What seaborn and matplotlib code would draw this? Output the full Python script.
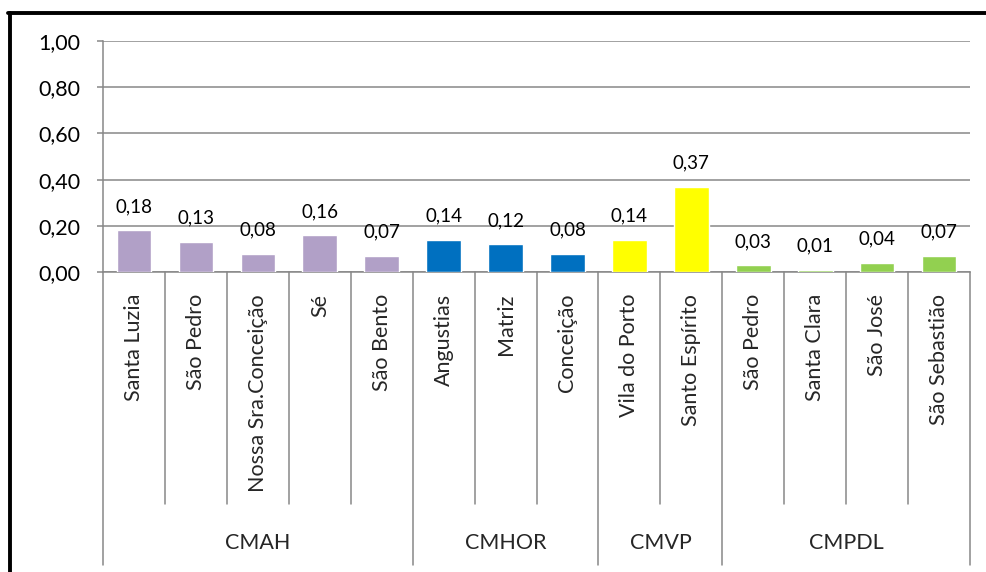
import matplotlib
matplotlib.use("Agg")
import matplotlib.pyplot as plt
import matplotlib.transforms as mtransforms
from matplotlib.lines import Line2D
import seaborn as sns
import pandas as pd

parishes = ["Santa Luzia", "São Pedro", "Nossa Sra.Conceição", "Sé", "São Bento",
            "Angustias", "Matriz", "Conceição",
            "Vila do Porto", "Santo Espírito",
            "São Pedro", "Santa Clara", "São José", "São Sebastião"]
groups = ["CMAH"] * 5 + ["CMHOR"] * 3 + ["CMVP"] * 2 + ["CMPDL"] * 4
values = [0.18, 0.13, 0.08, 0.16, 0.07, 0.14, 0.12, 0.08, 0.14, 0.37, 0.03, 0.01, 0.04, 0.07]
group_names = ["CMAH", "CMHOR", "CMVP", "CMPDL"]
group_colors = ["#B1A0C7", "#0070C0", "#FFFF00", "#92D050"]
yticks = [0.0, 0.2, 0.4, 0.6, 0.8, 1.0]

df = pd.DataFrame({"key": [f"{i}_{p}" for i, p in enumerate(parishes)],
                   "parish": parishes, "group": groups, "value": values})

sns.set_theme(style="white")
plt.rcParams["font.family"] = ["Lato", "DejaVu Sans"]

fig = plt.figure(figsize=(9.86, 5.72), dpi=100)
ax = fig.add_axes([0.1045, 0.5245, 0.8793, 0.4038])

sns.barplot(data=df, x="key", y="value", hue="group", hue_order=group_names,
            palette=dict(zip(group_names, group_colors)), dodge=False,
            width=0.56, legend=False, ax=ax, saturation=1, zorder=3)

grid_c = "#878787"
ax.set_ylim(0, 1.0)
ax.set_xlim(-0.5, len(parishes) - 0.5)
ax.set_yticks(yticks)
ax.set_yticklabels([f"{t:.2f}".replace(".", ",") for t in yticks], fontsize=15.5, color="black")
ax.yaxis.grid(True, color=grid_c, linewidth=1.1, zorder=1)
ax.set_axisbelow(True)
ax.tick_params(axis="y", length=4.5, width=1.1, color=grid_c, pad=12, left=True)
ax.set_xticks([])
ax.set_xlabel("")
ax.set_ylabel("")
for s in ["top", "right"]:
    ax.spines[s].set_visible(False)
ax.spines["left"].set_color(grid_c)
ax.spines["left"].set_linewidth(1.1)
ax.spines["bottom"].set_color(grid_c)
ax.spines["bottom"].set_linewidth(1.1)
ax.spines["bottom"].set_zorder(2)

# value labels
for i, v in enumerate(values):
    ax.annotate(f"{v:.2f}".replace(".", ","), (i, v), xytext=(0, 17), textcoords="offset points",
                ha="center", va="center", fontsize=13.5, color="black")

# multi-level category axis
trans = mtransforms.blended_transform_factory(ax.transData, ax.transAxes)
n = len(parishes)
boundaries = [0]
for i in range(1, n):
    if groups[i] != groups[i - 1]:
        boundaries.append(i)
boundaries.append(n)
for i in range(n + 1):
    is_group = i in boundaries
    y_end = -1.268 if is_group else -1.004
    ax.add_line(Line2D([i - 0.5, i - 0.5], [0, y_end], transform=trans, color=grid_c,
                       linewidth=1.1, clip_on=False))
for i, p in enumerate(parishes):
    ax.text(i, -0.095, p, transform=trans, rotation=90, ha="center", va="top", fontsize=15.5)
for a, b in zip(boundaries[:-1], boundaries[1:]):
    ax.text((a + b - 1) / 2, -1.173, groups[a], transform=trans, ha="center", va="center", fontsize=15.5)

# outer black frame (left and top)
fig.add_artist(Line2D([9.5 / 986, 9.5 / 986], [0, 1 - 12.5 / 572], transform=fig.transFigure,
                      color="black", linewidth=2.8))
fig.add_artist(Line2D([8 / 986, 1], [1 - 13 / 572, 1 - 13 / 572], transform=fig.transFigure,
                      color="black", linewidth=2.8))

fig.savefig("out.png", dpi=100)
